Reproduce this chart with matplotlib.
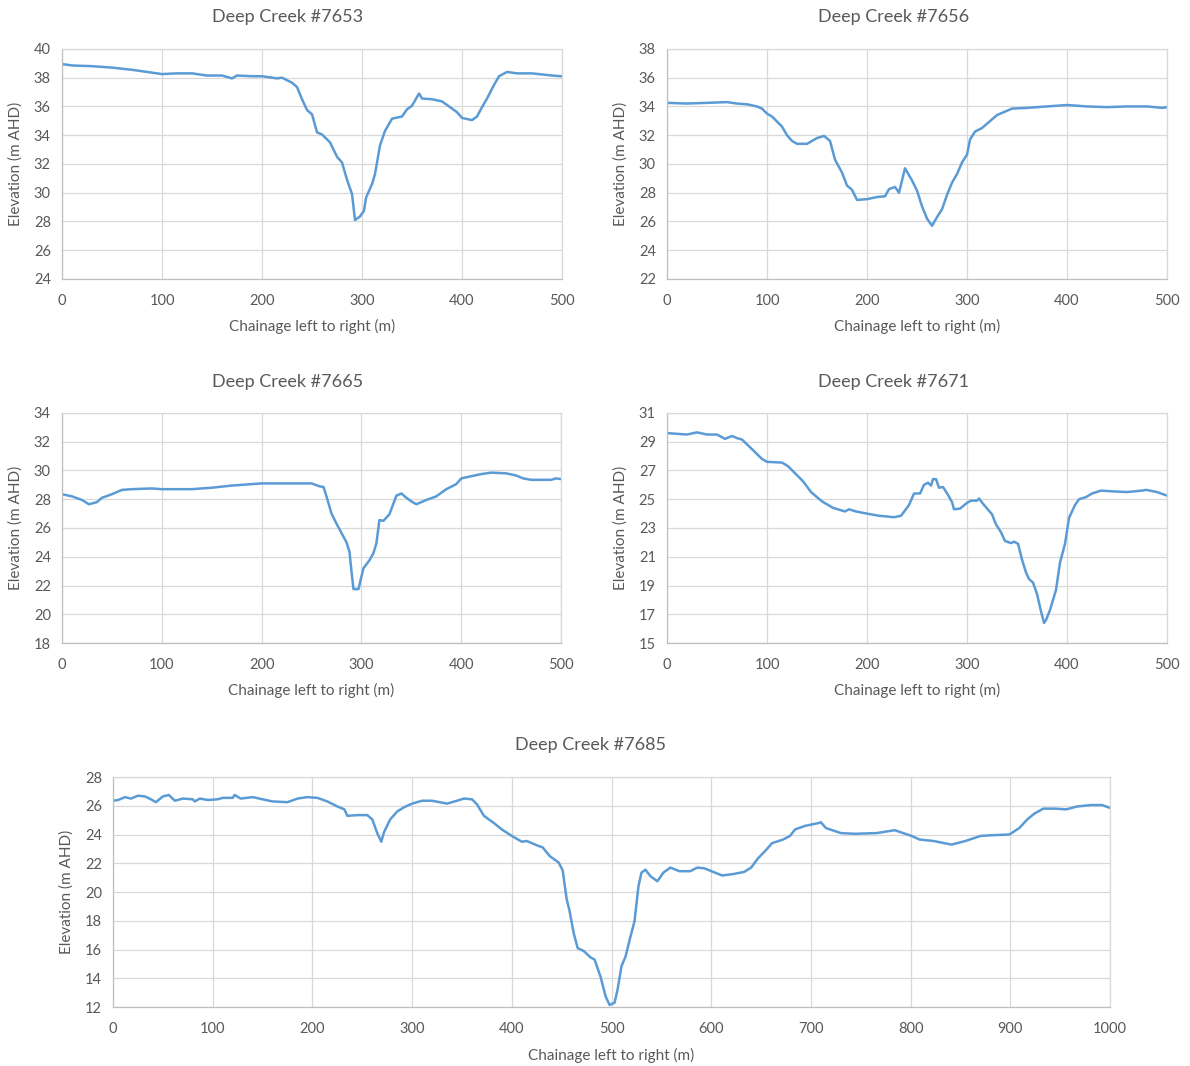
import matplotlib
matplotlib.use("Agg")
import matplotlib.pyplot as plt

plt.rcParams['font.family'] = ['Lato', 'DejaVu Sans']

# Deep Creek #7653
x7653 = [0, 10, 30, 50, 70, 90, 100, 115, 130, 145, 160, 170, 175, 190, 200, 215, 220, 230, 235,
         240, 245, 250, 255, 260, 268, 275, 280, 285, 290, 293, 298, 302, 304, 310, 313, 318, 323,
         330, 340, 345, 350, 357, 360, 370, 380, 385, 395, 400, 410, 415, 420, 425, 432, 437, 445,
         455, 470, 490, 500]
y7653 = [38.95, 38.85, 38.8, 38.7, 38.55, 38.35, 38.25, 38.3, 38.3, 38.15, 38.15, 37.95, 38.15,
         38.1, 38.1, 37.95, 38.0, 37.65, 37.35, 36.5, 35.75, 35.45, 34.2, 34.05, 33.5, 32.5, 32.1,
         30.9, 29.9, 28.1, 28.35, 28.75, 29.65, 30.6, 31.3, 33.3, 34.3, 35.15, 35.3, 35.8, 36.05,
         36.9, 36.55, 36.5, 36.35, 36.1, 35.6, 35.2, 35.05, 35.3, 35.95, 36.55, 37.5, 38.1, 38.4,
         38.3, 38.3, 38.15, 38.1]

# Deep Creek #7656
x7656 = [0, 20, 40, 60, 70, 80, 90, 95, 100, 105, 115, 120, 125, 130, 140, 150, 157, 163, 168,
         175, 180, 185, 190, 200, 210, 218, 222, 228, 232, 238, 245, 250, 255, 260, 265, 270, 275,
         280, 285, 290, 295, 300, 303, 308, 315, 320, 330, 340, 345, 360, 380, 400, 420, 440, 460,
         480, 495, 500]
y7656 = [34.25, 34.2, 34.25, 34.3, 34.2, 34.15, 34.0, 33.85, 33.5, 33.3, 32.6, 32.0, 31.6, 31.4,
         31.4, 31.8, 31.95, 31.6, 30.3, 29.4, 28.5, 28.2, 27.5, 27.55, 27.7, 27.75, 28.25, 28.4,
         28.0, 29.7, 28.85, 28.15, 27.05, 26.2, 25.7, 26.3, 26.85, 27.85, 28.7, 29.3, 30.1, 30.65,
         31.7, 32.25, 32.5, 32.8, 33.4, 33.7, 33.85, 33.9, 34.0, 34.1, 34.0, 33.95, 34.0, 34.0,
         33.9, 33.95]

# Deep Creek #7665
x7665 = [0, 10, 20, 27, 35, 40, 50, 60, 70, 90, 100, 130, 150, 170, 190, 200, 250, 258, 262, 265,
         270, 275, 280, 285, 288, 290, 292, 297, 302, 308, 312, 315, 318, 322, 328, 335, 340, 345,
         350, 355, 365, 375, 385, 395, 400, 410, 420, 430, 445, 455, 462, 470, 490, 495, 500]
y7665 = [28.35, 28.2, 27.95, 27.65, 27.8, 28.1, 28.35, 28.65, 28.7, 28.75, 28.7, 28.7, 28.8, 28.95,
         29.05, 29.1, 29.1, 28.9, 28.85, 28.2, 27.0, 26.3, 25.65, 25.0, 24.35, 23.0, 21.75, 21.75,
         23.2, 23.75, 24.25, 24.95, 26.55, 26.5, 26.95, 28.25, 28.4, 28.1, 27.85, 27.65, 27.95,
         28.2, 28.7, 29.05, 29.45, 29.6, 29.75, 29.85, 29.8, 29.65, 29.45, 29.35, 29.35, 29.45, 29.4]

# Deep Creek #7671
x7671 = [0, 10, 20, 30, 40, 50, 58, 65, 70, 75, 84, 95, 100, 115, 121, 136, 144, 155, 166, 178,
         182, 189, 200, 212, 227, 234, 242, 247, 253, 257, 261, 264, 266, 269, 272, 276, 281, 285,
         287, 293, 300, 304, 310, 312, 317, 325, 329, 334, 338, 344, 347, 351, 355, 359, 362, 366,
         370, 374, 377, 379, 383, 389, 393, 398, 402, 408, 412, 419, 425, 434, 445, 460, 475, 479,
         490, 500]
y7671 = [29.6, 29.55, 29.5, 29.65, 29.5, 29.5, 29.2, 29.4, 29.25, 29.15, 28.55, 27.8, 27.6, 27.55,
         27.3, 26.25, 25.5, 24.85, 24.4, 24.15, 24.3, 24.15, 24.0, 23.85, 23.75, 23.85, 24.6, 25.4,
         25.4, 26.0, 26.15, 25.95, 26.4, 26.4, 25.8, 25.85, 25.3, 24.8, 24.3, 24.35, 24.75, 24.9,
         24.9, 25.05, 24.6, 23.95, 23.25, 22.7, 22.1, 21.95, 22.05, 21.9, 20.8, 19.9, 19.45, 19.2,
         18.4, 17.2, 16.4, 16.6, 17.3, 18.7, 20.6, 21.9, 23.7, 24.6, 25.0, 25.15, 25.4, 25.6, 25.55,
         25.5, 25.6, 25.65, 25.5, 25.25]

# Deep Creek #7685
x7685 = [0, 5, 12, 18, 25, 32, 38, 43, 50, 56, 62, 70, 80, 82, 87, 95, 105, 110, 120, 122, 128,
         140, 150, 160, 175, 185, 195, 205, 215, 225, 232, 235, 245, 255, 260, 265, 269, 272, 278,
         285, 292, 300, 310, 320, 335, 345, 352, 360, 365, 372, 382, 390, 400, 410, 415, 425, 431,
         438, 447, 451, 455, 458, 462, 466, 472, 479, 483, 489, 494, 498, 503, 506, 510, 514, 519,
         523, 527, 530, 534, 539, 546, 552, 559, 568, 579, 586, 593, 602, 611, 622, 633, 640, 647,
         654, 661, 672, 679, 684, 694, 708, 710, 715, 730, 744, 766, 784, 801, 809, 823, 841, 855,
         870, 881, 899, 909, 917, 924, 933, 945, 956, 967, 981, 992, 1000]
y7685 = [26.35, 26.4, 26.6, 26.5, 26.7, 26.65, 26.45, 26.25, 26.65, 26.75, 26.35, 26.5, 26.45,
         26.3, 26.5, 26.4, 26.45, 26.55, 26.55, 26.75, 26.5, 26.6, 26.45, 26.3, 26.25, 26.5, 26.6,
         26.55, 26.3, 25.95, 25.75, 25.3, 25.35, 25.35, 25.05, 24.1, 23.5, 24.2, 25.05, 25.6, 25.9,
         26.15, 26.35, 26.35, 26.15, 26.35, 26.5, 26.45, 26.1, 25.3, 24.8, 24.35, 23.9, 23.5, 23.55,
         23.25, 23.1, 22.5, 22.05, 21.5, 19.5, 18.65, 17.15, 16.1, 15.9, 15.45, 15.3, 14.1, 12.75,
         12.15, 12.3, 13.2, 14.85, 15.5, 16.9, 17.95, 20.4, 21.35, 21.55, 21.1, 20.75, 21.35, 21.7,
         21.45, 21.45, 21.7, 21.65, 21.4, 21.15, 21.25, 21.4, 21.7, 22.35, 22.85, 23.4, 23.65, 23.9,
         24.35, 24.6, 24.8, 24.85, 24.45, 24.1, 24.05, 24.1, 24.3, 23.9, 23.65, 23.55, 23.3, 23.55,
         23.9, 23.95, 24.0, 24.45, 25.05, 25.45, 25.8, 25.8, 25.75, 25.95, 26.05, 26.05, 25.85]

# title, x, y, y-limits, x max, axes rect, title position
panels = [
    ("Deep Creek #7653", x7653, y7653, (24, 40), 500, [0.0521, 0.7383, 0.4202, 0.2158], (0.242, 0.984)),
    ("Deep Creek #7656", x7656, y7656, (22, 38), 500, [0.5605, 0.7383, 0.4202, 0.2158], (0.751, 0.984)),
    ("Deep Creek #7665", x7665, y7665, (18, 34), 500, [0.0521, 0.3968, 0.4194, 0.2158], (0.242, 0.642)),
    ("Deep Creek #7671", x7671, y7671, (15, 31), 500, [0.5605, 0.3968, 0.4202, 0.2158], (0.751, 0.642)),
    ("Deep Creek #7685", x7685, y7685, (12, 28), 1000, [0.0950, 0.0553, 0.8378, 0.2158], (0.496, 0.301)),
]

line_col = '#5B9BD5'
text_col = '#595959'
grid_col = '#D9D9D9'

fig = plt.figure(figsize=(11.9, 10.66), dpi=100)

for title, xs, ys, ylim, xmax, rect, tpos in panels:
    ax = fig.add_axes(rect)
    ax.plot(xs, ys, color=line_col, linewidth=1.8, solid_joinstyle='round')
    ax.set_xlim(0, xmax)
    ax.set_ylim(*ylim)
    ax.set_xticks(range(0, xmax + 1, 100))
    ax.set_yticks(range(ylim[0], ylim[1] + 1, 2))
    ax.grid(True, color=grid_col, linewidth=0.9)
    ax.set_axisbelow(True)
    for s in ax.spines.values():
        s.set_color(grid_col)
        s.set_linewidth(0.9)
    ax.spines['left'].set_color('#BFBFBF')
    ax.spines['bottom'].set_color('#BFBFBF')
    ax.tick_params(length=0, labelsize=10.5, labelcolor=text_col)
    ax.tick_params(axis='x', pad=11)
    ax.tick_params(axis='y', pad=8)
    fig.text(tpos[0], tpos[1], title, fontsize=13, color=text_col, ha='center', va='center')
    ax.set_xlabel("Chainage left to right (m)", fontsize=11, color=text_col, labelpad=8)
    ax.set_ylabel("Elevation (m AHD)", fontsize=11, color=text_col, labelpad=8)

fig.savefig("out.png", dpi=100, facecolor='white')
